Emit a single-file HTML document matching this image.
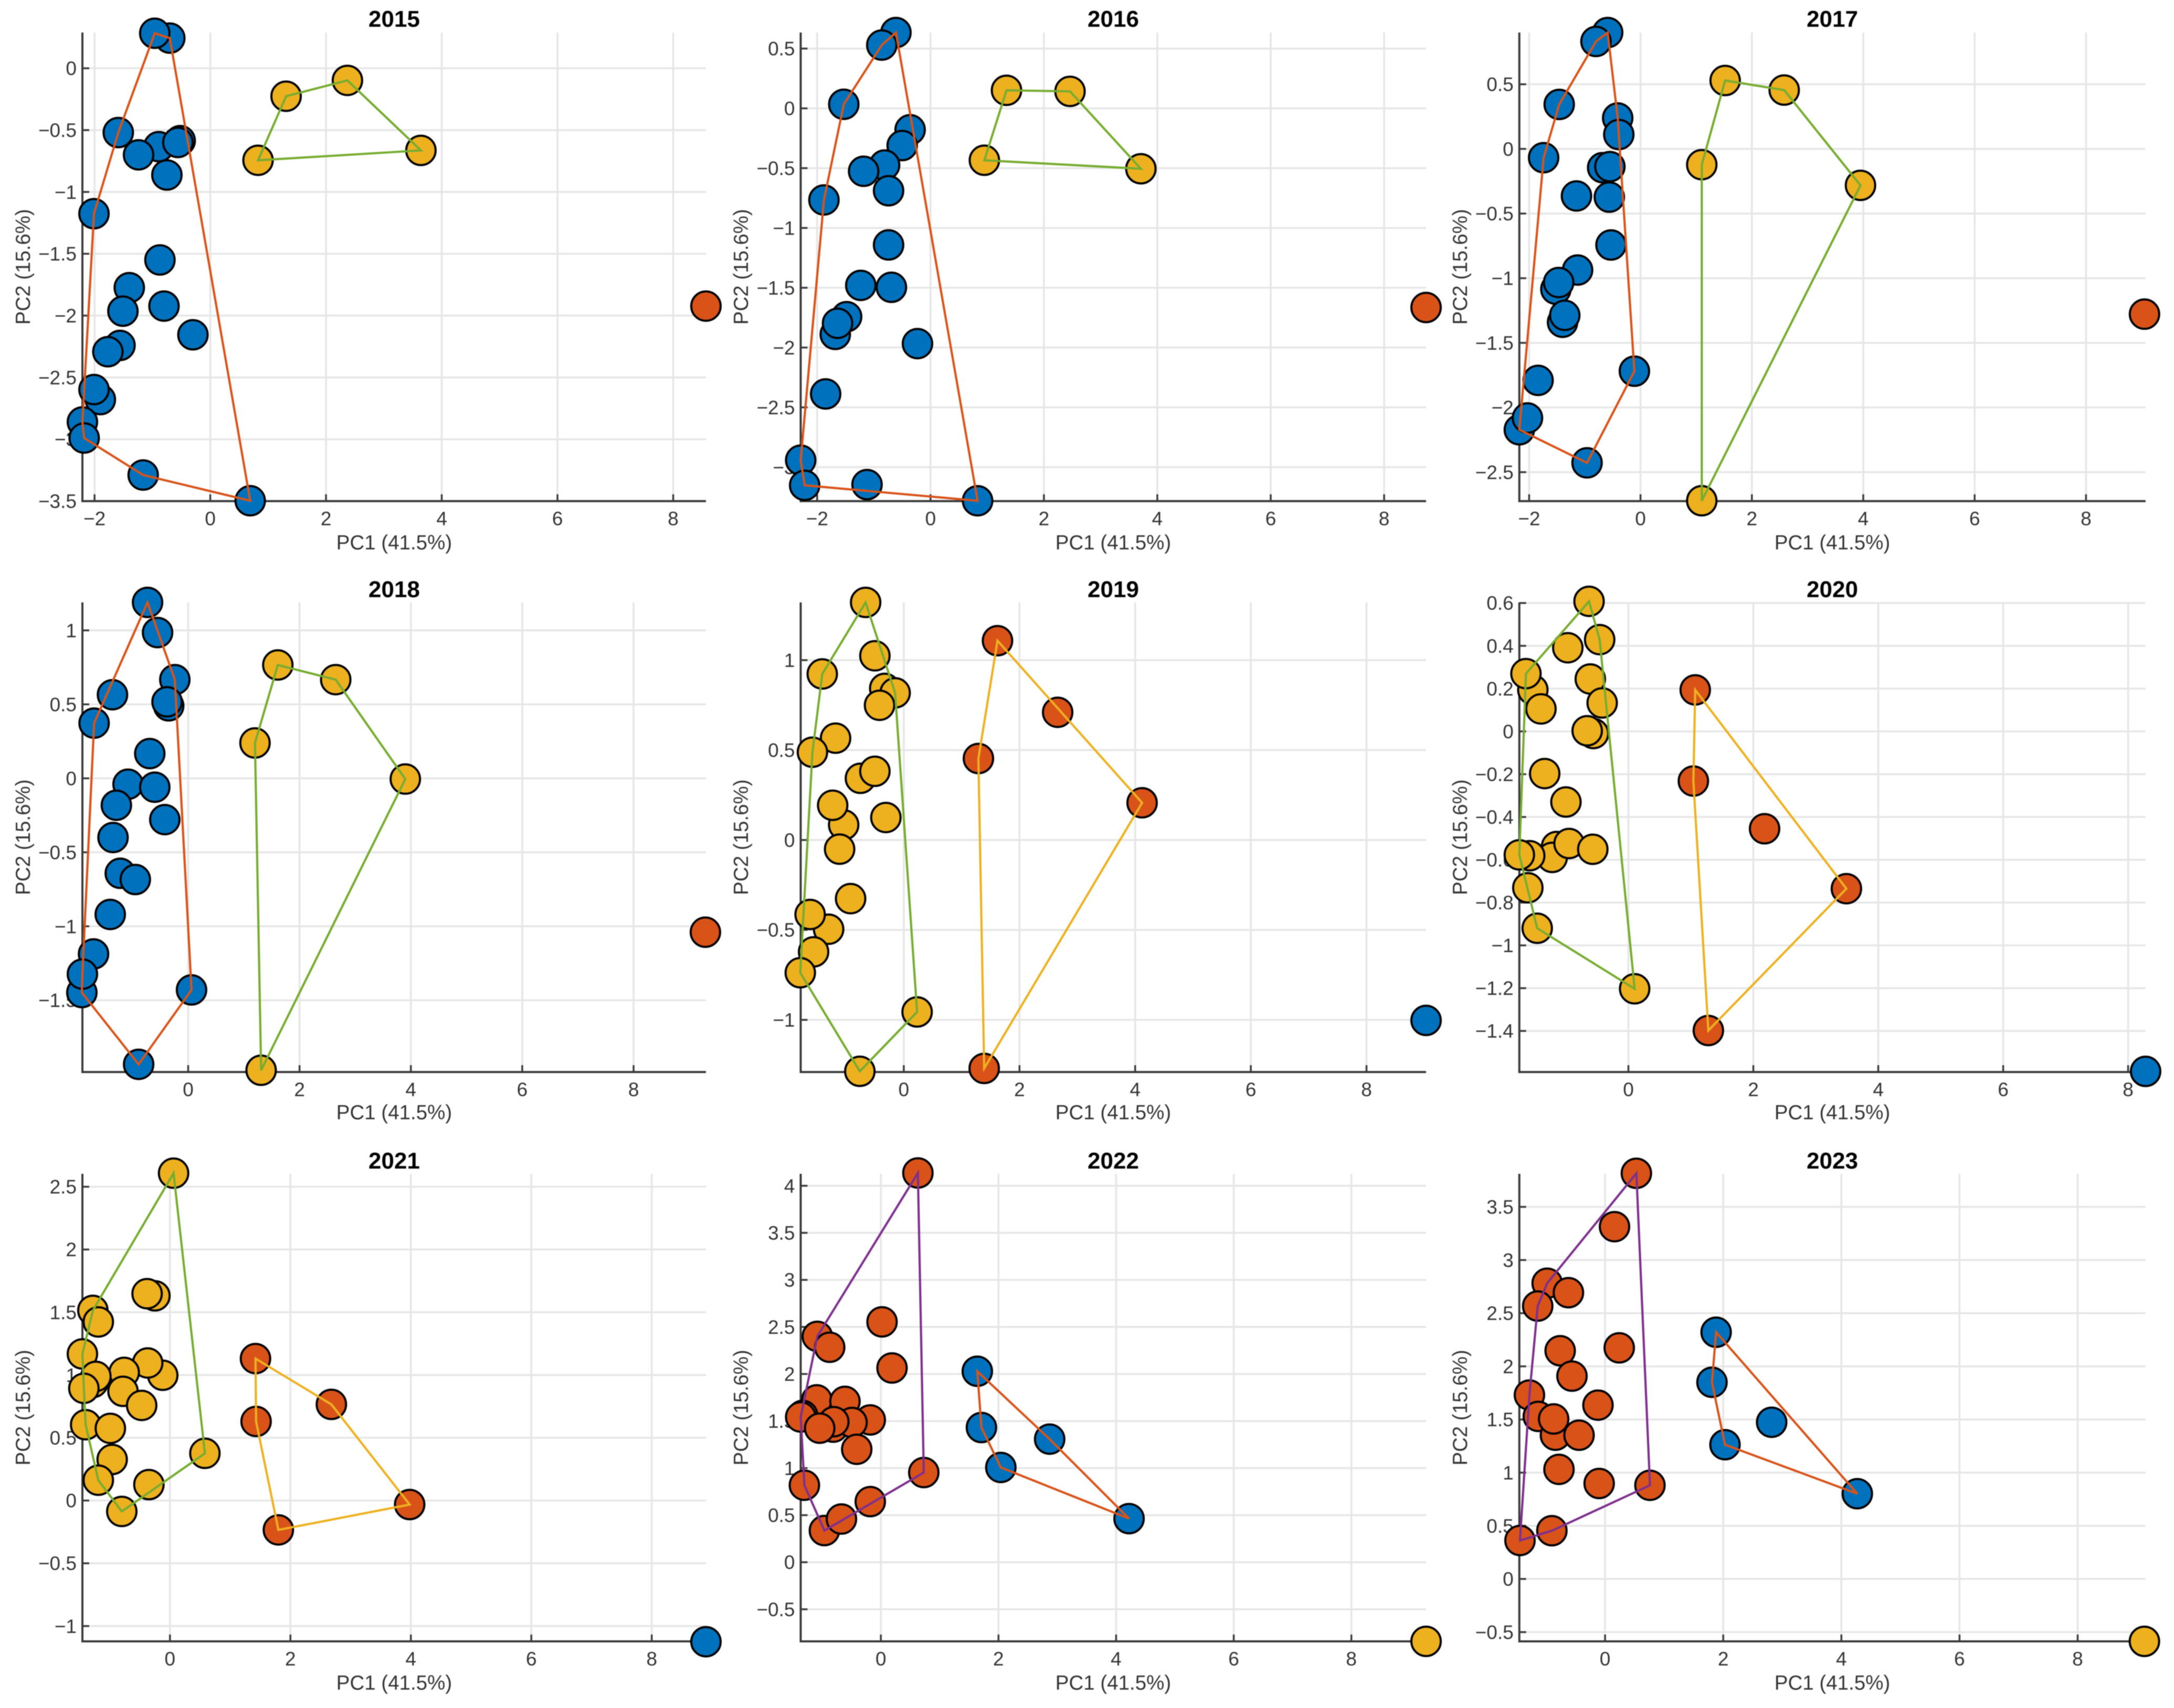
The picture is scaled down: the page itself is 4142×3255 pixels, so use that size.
<!DOCTYPE html>
<html lang="en">
<head>
<meta charset="utf-8">
<title>PCA scatter plots 2015-2023</title>
<style>
html,body{margin:0;padding:0;background:#fff;}
svg{display:block;font-family:"Liberation Sans",sans-serif;filter:blur(0.8px);}
.title{font-size:44px;font-weight:bold;fill:#000;text-anchor:middle;}
.axlabel{font-size:38.5px;fill:#333;text-anchor:middle;}
</style>
</head>
<body>
<svg id="chart" xmlns="http://www.w3.org/2000/svg" width="4142" height="3255" viewBox="0 0 4142 3255">
<rect width="4142" height="3255" fill="#fff"/>

<text class="title" x="751" y="51">2015</text>
<text class="axlabel" x="751" y="1047">PC1 (41.5%)</text>
<text class="axlabel" transform="translate(57,508.5) rotate(-90)">PC2 (15.6%)</text>

<text class="title" x="2121" y="51">2016</text>
<text class="axlabel" x="2121" y="1047">PC1 (41.5%)</text>
<text class="axlabel" transform="translate(1425,508.5) rotate(-90)">PC2 (15.6%)</text>

<text class="title" x="3491" y="51">2017</text>
<text class="axlabel" x="3491" y="1047">PC1 (41.5%)</text>
<text class="axlabel" transform="translate(2795,508.5) rotate(-90)">PC2 (15.6%)</text>

<text class="title" x="751" y="1138">2018</text>
<text class="axlabel" x="751" y="2133">PC1 (41.5%)</text>
<text class="axlabel" transform="translate(57,1595.5) rotate(-90)">PC2 (15.6%)</text>

<text class="title" x="2121" y="1138">2019</text>
<text class="axlabel" x="2121" y="2133">PC1 (41.5%)</text>
<text class="axlabel" transform="translate(1425,1595.5) rotate(-90)">PC2 (15.6%)</text>

<text class="title" x="3491" y="1138">2020</text>
<text class="axlabel" x="3491" y="2133">PC1 (41.5%)</text>
<text class="axlabel" transform="translate(2795,1595.5) rotate(-90)">PC2 (15.6%)</text>

<text class="title" x="751" y="2227">2021</text>
<text class="axlabel" x="751" y="3220">PC1 (41.5%)</text>
<text class="axlabel" transform="translate(57,2682.5) rotate(-90)">PC2 (15.6%)</text>

<text class="title" x="2121" y="2227">2022</text>
<text class="axlabel" x="2121" y="3220">PC1 (41.5%)</text>
<text class="axlabel" transform="translate(1425,2682.5) rotate(-90)">PC2 (15.6%)</text>

<text class="title" x="3491" y="2227">2023</text>
<text class="axlabel" x="3491" y="3220">PC1 (41.5%)</text>
<text class="axlabel" transform="translate(2795,2682.5) rotate(-90)">PC2 (15.6%)</text>
</svg>

<script>
// ---- shared ticks
const xTickValues = [-2, 0, 2, 4, 6, 8];

// ---- axis limits and y ticks per year
const xLim2015 = [-2.21, 8.566],  yLim2015 = [-3.5, 0.289],   yTicks2015 = [0, -0.5, -1, -1.5, -2, -2.5, -3, -3.5];
const xLim2016 = [-2.29, 8.74],   yLim2016 = [-3.284, 0.634], yTicks2016 = [0.5, 0, -0.5, -1, -1.5, -2, -2.5, -3];
const xLim2017 = [-2.176, 9.07],  yLim2017 = [-2.724, 0.90],  yTicks2017 = [0.5, 0, -0.5, -1, -1.5, -2, -2.5];
const xLim2018 = [-1.90, 9.30],   yLim2018 = [-1.985, 1.189], yTicks2018 = [1, 0.5, 0, -0.5, -1, -1.5];
const xLim2019 = [-1.783, 9.03],  yLim2019 = [-1.29, 1.321],  yTicks2019 = [1, 0.5, 0, -0.5, -1];
const xLim2020 = [-1.746, 8.28],  yLim2020 = [-1.592, 0.603], yTicks2020 = [0.6, 0.4, 0.2, 0, -0.2, -0.4, -0.6, -0.8, -1, -1.2, -1.4];
const xLim2021 = [-1.454, 8.90],  yLim2021 = [-1.122, 2.603], yTicks2021 = [2.5, 2, 1.5, 1, 0.5, 0, -0.5, -1];
const xLim2022 = [-1.363, 9.27],  yLim2022 = [-0.841, 4.127], yTicks2022 = [4, 3.5, 3, 2.5, 2, 1.5, 1, 0.5, 0, -0.5];
const xLim2023 = [-1.451, 9.15],  yLim2023 = [-0.587, 3.811], yTicks2023 = [3.5, 3, 2.5, 2, 1.5, 1, 0.5, 0, -0.5];

// ---- 2015
const pc1Blue2015 = [-0.70,-0.96,-1.59,-0.89,-1.24,-0.52,-0.56,-0.75,-2.01,-0.87,-1.40,-1.51,-0.80,-0.30,-1.56,-1.77,-1.90,-2.01,-2.21,-2.18,-1.16,0.69];
const pc2Blue2015 = [0.244,0.283,-0.52,-0.634,-0.70,-0.585,-0.60,-0.863,-1.176,-1.55,-1.774,-1.964,-1.923,-2.155,-2.241,-2.292,-2.679,-2.598,-2.86,-2.99,-3.289,-3.497];
const pc1Gold2015 = [1.31,2.37,3.64,0.825];
const pc2Gold2015 = [-0.226,-0.098,-0.664,-0.744];
const pc1Red2015 = [8.566];
const pc2Red2015 = [-1.923];

// ---- 2016
const pc1Blue2016 = [-0.61,-0.86,-1.53,-0.36,-0.50,-0.81,-1.18,-0.74,-1.88,-0.74,-1.23,-0.69,-1.48,-1.68,-1.64,-0.23,-1.85,-2.29,-2.22,-1.12,0.83];
const pc2Blue2016 = [0.634,0.529,0.034,-0.179,-0.311,-0.474,-0.526,-0.689,-0.766,-1.142,-1.480,-1.496,-1.742,-1.890,-1.797,-1.967,-2.388,-2.942,-3.152,-3.146,-3.281];
const pc1Gold2016 = [1.34,2.46,3.71,0.95];
const pc2Gold2016 = [0.151,0.142,-0.505,-0.434];
const pc1Red2016 = [8.74];
const pc2Red2016 = [-1.665];

// ---- 2017
const pc1Blue2017 = [-0.59,-0.80,-1.46,-0.41,-0.39,-1.74,-0.68,-0.55,-1.15,-0.56,-0.53,-1.13,-1.52,-1.47,-1.40,-1.36,-0.11,-1.84,-2.176,-2.03,-0.96];
const pc2Blue2017 = [0.90,0.831,0.344,0.239,0.111,-0.068,-0.145,-0.137,-0.364,-0.373,-0.743,-0.937,-1.085,-1.033,-1.341,-1.287,-1.719,-1.790,-2.172,-2.081,-2.428];
const pc1Gold2017 = [1.52,2.58,3.95,1.10,1.10];
const pc2Gold2017 = [0.529,0.455,-0.282,-0.122,-2.721];
const pc1Red2017 = [9.05];
const pc2Red2017 = [-1.278];

// ---- 2018
const pc1Blue2018 = [-0.73,-0.55,-0.24,-1.36,-0.35,-0.38,-1.69,-0.69,-1.08,-0.60,-1.29,-0.42,-1.35,-1.22,-0.95,-1.40,-1.70,-1.91,-1.90,0.06,-0.89];
const pc2Blue2018 = [1.189,0.985,0.667,0.565,0.490,0.517,0.373,0.167,-0.040,-0.060,-0.182,-0.279,-0.400,-0.642,-0.684,-0.920,-1.187,-1.448,-1.323,-1.430,-1.933];
const pc1Gold2018 = [1.61,2.65,3.90,1.20,1.31];
const pc2Gold2018 = [0.766,0.667,-0.005,0.239,-1.973];
const pc1Red2018 = [9.29];
const pc2Red2018 = [-1.04];

// ---- 2019
const pc1Gold2019 = [-0.66,-0.50,-1.41,-0.33,-0.15,-0.42,-1.18,-1.58,-0.75,-0.50,-1.04,-1.23,-0.31,-1.11,-0.92,-1.30,-1.62,-1.56,-1.79,0.23,-0.76];
const pc2Gold2019 = [1.321,1.024,0.923,0.843,0.818,0.749,0.566,0.488,0.343,0.382,0.084,0.193,0.125,-0.051,-0.326,-0.496,-0.414,-0.622,-0.738,-0.956,-1.286];
const pc1Red2019 = [1.62,2.66,4.12,1.29,1.39];
const pc2Red2019 = [1.108,0.710,0.207,0.453,-1.27];
const pc1Blue2019 = [9.03];
const pc2Blue2019 = [-1.003];

// ---- 2020
const pc1Gold2020 = [-0.63,-0.46,-0.97,-1.53,-1.64,-0.61,-0.42,-1.40,-0.56,-0.66,-1.34,-1.0,-1.15,-1.22,-0.95,-0.57,-1.58,-1.746,-1.61,-1.46,0.10];
const pc2Gold2020 = [0.608,0.429,0.391,0.194,0.270,0.245,0.133,0.105,-0.010,0.003,-0.197,-0.330,-0.538,-0.589,-0.524,-0.551,-0.581,-0.577,-0.731,-0.920,-1.203];
const pc1Red2020 = [1.07,1.04,2.18,3.49,1.28];
const pc2Red2020 = [0.194,-0.232,-0.455,-0.735,-1.398];
const pc1Blue2020 = [8.28];
const pc2Blue2020 = [-1.589];

// ---- 2021
const pc1Gold2021 = [0.06,-0.25,-0.38,-1.28,-1.19,-1.454,-0.12,-0.37,-0.76,-1.28,-1.23,-1.43,-0.78,-0.47,-1.40,-0.99,-0.96,0.58,-1.19,-0.35,-0.80];
const pc2Gold2021 = [2.608,1.631,1.648,1.515,1.423,1.168,0.998,1.096,1.021,0.940,0.989,0.894,0.870,0.758,0.604,0.575,0.327,0.376,0.162,0.127,-0.087];
const pc1Red2021 = [1.42,2.68,1.43,3.98,1.80];
const pc2Red2021 = [1.131,0.766,0.630,-0.032,-0.234];
const pc1Blue2021 = [8.90];
const pc2Blue2021 = [-1.125];

// ---- 2022
const pc1Red2022 = [0.63,0.02,-1.08,-0.87,0.19,-1.09,-0.61,-0.18,-1.33,-0.81,-0.49,-0.80,-1.363,-1.04,-0.41,-1.30,0.73,-0.18,-0.96,-0.67];
const pc2Red2022 = [4.136,2.554,2.400,2.284,2.064,1.725,1.709,1.512,1.56,1.435,1.485,1.493,1.543,1.424,1.200,0.818,0.953,0.644,0.336,0.459];
const pc1Blue2022 = [1.64,1.71,2.87,2.04,4.22];
const pc2Blue2022 = [2.029,1.431,1.308,1.007,0.463];
const pc1Gold2022 = [9.27];
const pc2Gold2022 = [-0.841];

// ---- 2023
const pc1Red2023 = [0.53,0.16,-0.98,-0.62,-1.14,-0.76,0.24,-0.56,-1.28,-0.12,-1.13,-0.84,-0.87,-0.44,-0.78,-0.10,0.76,-0.90,-1.44];
const pc2Red2023 = [3.816,3.314,2.782,2.693,2.567,2.147,2.174,1.908,1.730,1.635,1.529,1.352,1.505,1.352,1.031,0.898,0.881,0.454,0.362];
const pc1Blue2023 = [1.88,1.81,2.82,2.03,4.27];
const pc2Blue2023 = [2.321,1.850,1.474,1.263,0.802];
const pc1Gold2023 = [9.13];
const pc2Gold2023 = [-0.587];

// ---- colours
const BLUE = '#0072BD', RED = '#D95319', GOLD = '#EDB120', PURPLE = '#7E2F8E', GREEN = '#77AC30';

// ---- panel frames (layout only)
const frameLeft = [157, 1525.5, 2894.7], frameRight = [1345, 2717, 4087.9];
const frameTop = [62, 1148, 2237], frameBottom = [955, 2043, 3128];

const panels = [
  {year:'2015',col:0,row:0,xl:xLim2015,yl:yLim2015,yt:yTicks2015,groups:[
    {n:'blue',c:BLUE,h:RED,x:pc1Blue2015,y:pc2Blue2015},{n:'gold',c:GOLD,h:GREEN,x:pc1Gold2015,y:pc2Gold2015},{n:'red',c:RED,h:null,x:pc1Red2015,y:pc2Red2015}]},
  {year:'2016',col:1,row:0,xl:xLim2016,yl:yLim2016,yt:yTicks2016,groups:[
    {n:'blue',c:BLUE,h:RED,x:pc1Blue2016,y:pc2Blue2016},{n:'gold',c:GOLD,h:GREEN,x:pc1Gold2016,y:pc2Gold2016},{n:'red',c:RED,h:null,x:pc1Red2016,y:pc2Red2016}]},
  {year:'2017',col:2,row:0,xl:xLim2017,yl:yLim2017,yt:yTicks2017,groups:[
    {n:'blue',c:BLUE,h:RED,x:pc1Blue2017,y:pc2Blue2017},{n:'gold',c:GOLD,h:GREEN,x:pc1Gold2017,y:pc2Gold2017},{n:'red',c:RED,h:null,x:pc1Red2017,y:pc2Red2017}]},
  {year:'2018',col:0,row:1,xl:xLim2018,yl:yLim2018,yt:yTicks2018,groups:[
    {n:'blue',c:BLUE,h:RED,x:pc1Blue2018,y:pc2Blue2018},{n:'gold',c:GOLD,h:GREEN,x:pc1Gold2018,y:pc2Gold2018},{n:'red',c:RED,h:null,x:pc1Red2018,y:pc2Red2018}]},
  {year:'2019',col:1,row:1,xl:xLim2019,yl:yLim2019,yt:yTicks2019,groups:[
    {n:'gold',c:GOLD,h:GREEN,x:pc1Gold2019,y:pc2Gold2019},{n:'red',c:RED,h:GOLD,x:pc1Red2019,y:pc2Red2019},{n:'blue',c:BLUE,h:null,x:pc1Blue2019,y:pc2Blue2019}]},
  {year:'2020',col:2,row:1,xl:xLim2020,yl:yLim2020,yt:yTicks2020,groups:[
    {n:'gold',c:GOLD,h:GREEN,x:pc1Gold2020,y:pc2Gold2020},{n:'red',c:RED,h:GOLD,x:pc1Red2020,y:pc2Red2020},{n:'blue',c:BLUE,h:null,x:pc1Blue2020,y:pc2Blue2020}]},
  {year:'2021',col:0,row:2,xl:xLim2021,yl:yLim2021,yt:yTicks2021,groups:[
    {n:'gold',c:GOLD,h:GREEN,x:pc1Gold2021,y:pc2Gold2021},{n:'red',c:RED,h:GOLD,x:pc1Red2021,y:pc2Red2021},{n:'blue',c:BLUE,h:null,x:pc1Blue2021,y:pc2Blue2021}]},
  {year:'2022',col:1,row:2,xl:xLim2022,yl:yLim2022,yt:yTicks2022,groups:[
    {n:'red',c:RED,h:PURPLE,x:pc1Red2022,y:pc2Red2022},{n:'blue',c:BLUE,h:RED,x:pc1Blue2022,y:pc2Blue2022},{n:'gold',c:GOLD,h:null,x:pc1Gold2022,y:pc2Gold2022}]},
  {year:'2023',col:2,row:2,xl:xLim2023,yl:yLim2023,yt:yTicks2023,groups:[
    {n:'red',c:RED,h:PURPLE,x:pc1Red2023,y:pc2Red2023},{n:'blue',c:BLUE,h:RED,x:pc1Blue2023,y:pc2Blue2023},{n:'gold',c:GOLD,h:null,x:pc1Gold2023,y:pc2Gold2023}]}
];

const SVGNS = 'http://www.w3.org/2000/svg';
const root = document.getElementById('chart');

function make(tag, attrs, parent) {
  const node = document.createElementNS(SVGNS, tag);
  for (const k in attrs) node.setAttribute(k, attrs[k]);
  parent.appendChild(node);
  return node;
}

function convexHull(pts) {
  const s = pts.slice().sort((a, b) => a[0] - b[0] || a[1] - b[1]);
  const cross = (o, a, b) => (a[0] - o[0]) * (b[1] - o[1]) - (a[1] - o[1]) * (b[0] - o[0]);
  const lower = [], upper = [];
  for (const p of s) {
    while (lower.length >= 2 && cross(lower[lower.length - 2], lower[lower.length - 1], p) <= 0) lower.pop();
    lower.push(p);
  }
  for (let i = s.length - 1; i >= 0; i--) {
    const p = s[i];
    while (upper.length >= 2 && cross(upper[upper.length - 2], upper[upper.length - 1], p) <= 0) upper.pop();
    upper.push(p);
  }
  lower.pop(); upper.pop();
  return lower.concat(upper);
}

function fmt(v) { return String(v).replace('-', '\u2212'); }

function drawPanel(p) {
  const L = frameLeft[p.col], R = frameRight[p.col], T = frameTop[p.row], B = frameBottom[p.row];
  const sx = v => L + (v - p.xl[0]) / (p.xl[1] - p.xl[0]) * (R - L);
  const sy = v => B - (v - p.yl[0]) / (p.yl[1] - p.yl[0]) * (B - T);

  const g = make('g', {}, root);
  
  

  const xt = xTickValues.filter(v => v >= p.xl[0] && v <= p.xl[1]);

  // grid
  xt.forEach(v => {
    const gl = make('line', {x1: sx(v), x2: sx(v), y1: T, y2: B, stroke: '#e6e6e6', 'stroke-width': 3.6}, g);
    
    
  });
  p.yt.forEach(v => {
    const gl = make('line', {x1: L, x2: R, y1: sy(v), y2: sy(v), stroke: '#e6e6e6', 'stroke-width': 3.6}, g);
    
    
  });

  // tick labels and tick marks
  xt.forEach(v => {
    const t = make('text', {x: sx(v), y: B + 46, 'text-anchor': 'middle', 'font-size': 37, fill: '#333'}, g);
    t.textContent = fmt(v);
    
    
    const m = make('line', {x1: sx(v), x2: sx(v), y1: B, y2: B - 13, stroke: '#3a3a3a', 'stroke-width': 3.5}, g);
    
    
  });
  p.yt.forEach(v => {
    const t = make('text', {x: L - 11, y: sy(v) + 13, 'text-anchor': 'end', 'font-size': 37, fill: '#333'}, g);
    t.textContent = fmt(v);
    
    
    const m = make('line', {x1: L, x2: L + 13, y1: sy(v), y2: sy(v), stroke: '#3a3a3a', 'stroke-width': 3.5}, g);
    
    
  });

  // axes
  const ax = make('line', {x1: L - 2, x2: R, y1: B, y2: B, stroke: '#3a3a3a', 'stroke-width': 4}, g);
  
  
  const ay = make('line', {x1: L, x2: L, y1: T, y2: B, stroke: '#3a3a3a', 'stroke-width': 4}, g);
  
  

  // points
  p.groups.forEach(gr => {
    gr.x.forEach((xv, i) => {
      const c = make('circle', {cx: sx(xv), cy: sy(gr.y[i]), r: 28, fill: gr.c, stroke: '#000', 'stroke-width': 4}, g);
      
      
    });
  });

  // hulls
  p.groups.forEach(gr => {
    if (!gr.h) return;
    const hull = convexHull(gr.x.map((xv, i) => [xv, gr.y[i]]));
    const pg = make('polygon', {
      points: hull.map(q => sx(q[0]).toFixed(1) + ',' + sy(q[1]).toFixed(1)).join(' '),
      fill: 'none', stroke: gr.h, 'stroke-width': 4.2, 'stroke-linejoin': 'miter'
    }, g);
    
    
  });
}

panels.forEach(drawPanel);
</script>
</body>
</html>
